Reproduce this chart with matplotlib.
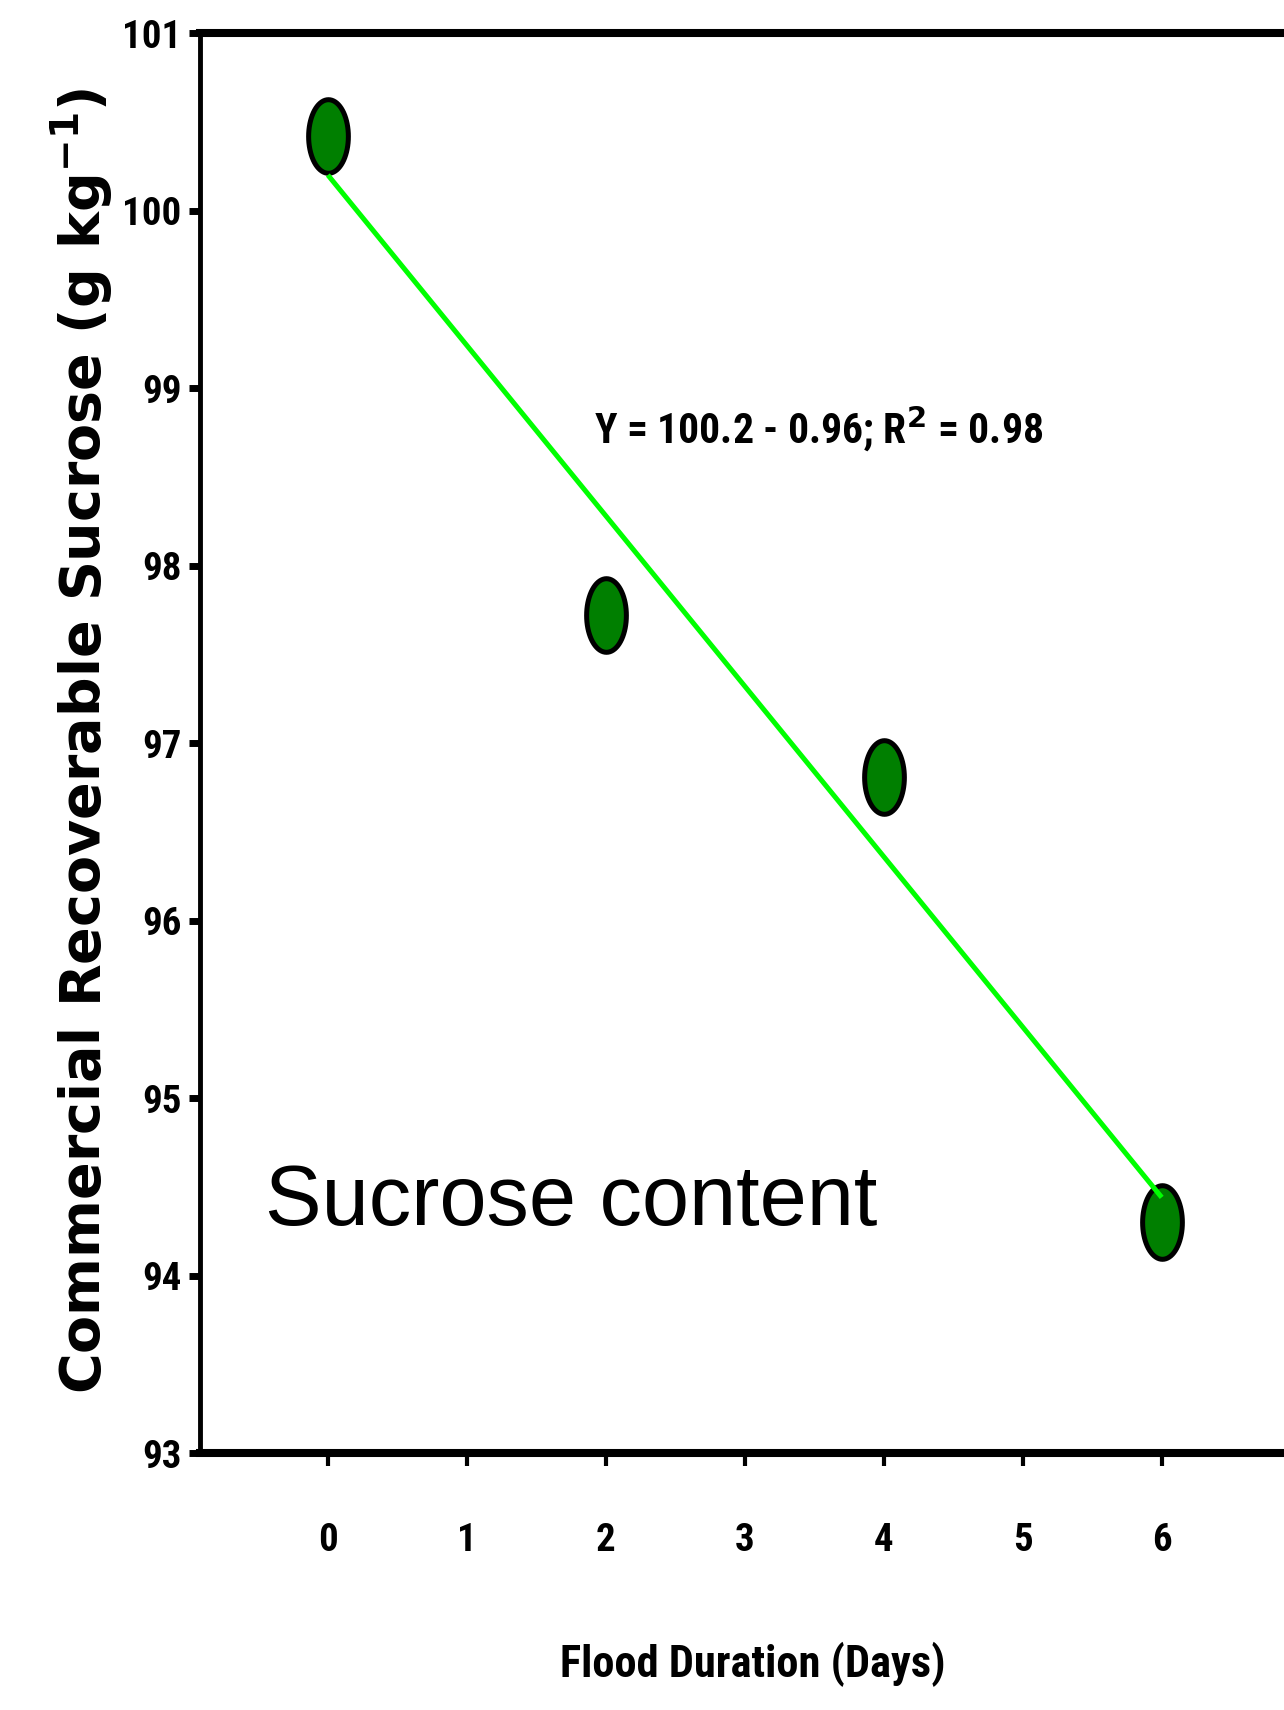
import matplotlib
matplotlib.use("Agg")
import matplotlib.pyplot as plt
from matplotlib.path import Path
from matplotlib import font_manager
import numpy as np

# ---- data ----
flood_days = [0, 2, 4, 6]
sucrose = [100.42, 97.72, 96.81, 94.30]
fit_x = [0, 6]
fit_y = [100.2, 94.44]
x_ticks = [0, 1, 2, 3, 4, 5, 6]
y_ticks = [93, 94, 95, 96, 97, 98, 99, 100, 101]
equation_text = "Y = 100.2 - 0.96; R$^{\\mathbf{2}}$ = 0.98"
panel_text = "Sucrose content"
x_label = "Flood Duration (Days)"
y_label = "Commercial Recoverable Sucrose (g kg$^{\\mathbf{-1}}$)"

names = {f.name for f in font_manager.fontManager.ttflist}
narrow = "Liberation Sans"
for cand in ["Liberation Sans Narrow", "Roboto Condensed", "Open Sans Condensed",
             "DejaVu Sans Condensed"]:
    if cand in names:
        narrow = cand
        break

W, H = 1284, 1710
fig = plt.figure(figsize=(W / 100, H / 100), dpi=100)
ax = fig.add_axes([200 / W, 1 - 1453 / H, 1 - 200 / W, (1453 - 33) / H])

# ellipse marker (taller than wide)
t = np.linspace(0, 2 * np.pi, 73)
ell = Path(np.column_stack([0.27 * np.cos(t), 0.5 * np.sin(t)]), closed=True)

ax.plot(flood_days, sucrose, linestyle="none", marker=ell, markersize=53,
        markerfacecolor="#007F00", markeredgecolor="black", markeredgewidth=3.6, zorder=3)
ax.plot(fit_x, fit_y, color="#00FF00", linewidth=3.6, zorder=4, solid_capstyle="butt")

ax.set_xlim(-0.92, 6.88)
ax.set_ylim(93, 101)
ax.set_xticks(x_ticks)
ax.set_yticks(y_ticks)

ax.spines["right"].set_visible(False)
ax.spines["top"].set_linewidth(5.8)
ax.spines["bottom"].set_linewidth(5.8)
ax.spines["left"].set_linewidth(3.5)

ax.tick_params(axis="y", direction="out", length=8, width=5, pad=5.5)
ax.tick_params(axis="x", direction="out", length=9, width=3, pad=41)

for lab in ax.get_xticklabels() + ax.get_yticklabels():
    lab.set_fontfamily(narrow)
    lab.set_fontweight("bold")
    lab.set_fontsize(28)

ax.text(3.53, 98.77, equation_text, fontsize=30, fontweight="bold", family=narrow,
        ha="center", va="center")
ax.text(-0.45, 94.41, panel_text, fontsize=61, family="Liberation Sans",
        ha="left", va="center")

fig.text(753 / W, 1 - 1664 / H, x_label, fontsize=32, fontweight="bold", family=narrow,
         ha="center", va="center")
fig.text(82 / W, 1 - 741 / H, y_label, fontsize=40, fontweight="bold", family="DejaVu Sans",
         ha="center", va="center", rotation=90)

fig.savefig("out.png", dpi=100)
